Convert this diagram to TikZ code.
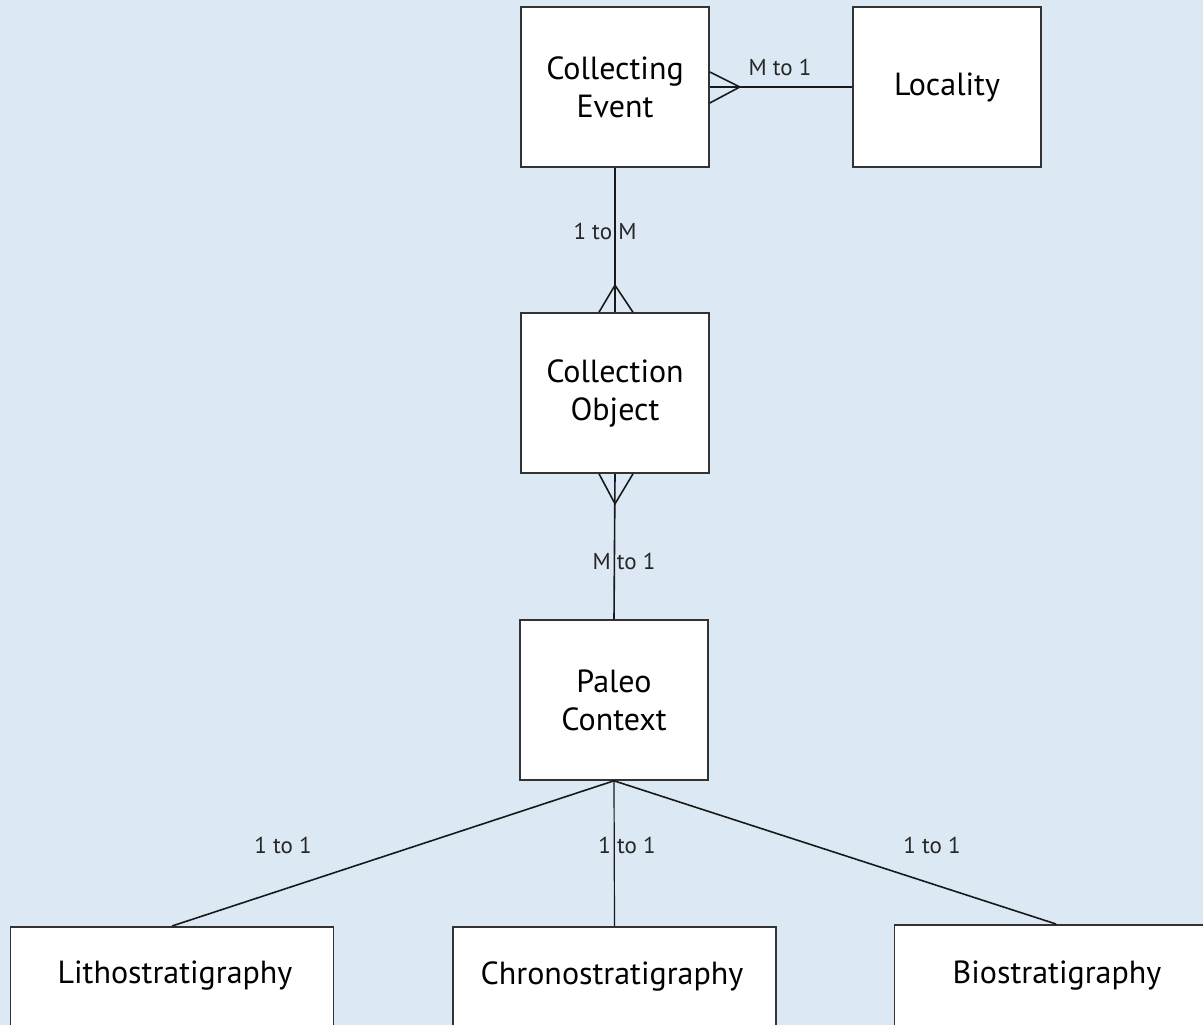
\documentclass[tikz,border=0pt]{standalone}
\usepackage{fontspec}
\setmainfont{PT Sans}
\usetikzlibrary{calc}
\definecolor{bgblue}{HTML}{DCE9F5}
\definecolor{edge}{HTML}{333333}
\begin{document}
\begin{tikzpicture}[x=1pt,y=-1pt,
  entity/.style={draw=edge,fill=white,line width=1.6pt,minimum width=188pt,minimum height=160pt,
    align=center,inner sep=0pt,font=\fontsize{32}{38}\selectfont},
  wide/.style={entity,minimum width=323pt,minimum height=200pt},
  etext/.style={font=\fontsize{32}{38}\selectfont,inner sep=0pt},
  rel/.style={line width=1.6pt,draw=black!90},
  lbl/.style={font=\fontsize{23}{26}\selectfont,text=black!85,inner sep=0pt}]
\useasboundingbox (0,0) rectangle (1203,1025);
\clip (0,0) rectangle (1203,1025);
\fill[bgblue] (0,0) rectangle (1203,1025);
\node[entity] (ce) at (615,87) {Collecting\\Event};
\node[entity] (loc) at (947,87) {Locality};
\node[entity] (co) at (615,393) {Collection\\Object};
\node[entity] (pc) at (614,700) {Paleo\\Context};
\node[wide,anchor=north] (litho) at (172,926) {};
\node[wide,anchor=north] (chrono) at (614.5,926) {};
\node[wide,anchor=north] (bio) at (1056,924) {};
\node[etext] (lithot) at (175,976) {Lithostratigraphy};
\node[etext] (chronot) at (612,976) {Chronostratigraphy};
\node[etext] (biot) at (1057,976) {Biostratigraphy};
% Collecting Event -- Locality (M to 1)
\draw[rel] (ce.east) -- (loc.west);
\draw[rel] ($(ce.east)+(0,-15)$) -- ($(ce.east)+(30,0)$) -- ($(ce.east)+(0,16)$);
\node[lbl] (l1) at (780,67) {M to 1};
% Collecting Event -- Collection Object (1 to M)
\draw[rel] (ce.south) -- (co.north);
\draw[rel] ($(co.north)+(-16,0)$) -- ($(co.north)+(0,-27)$) -- ($(co.north)+(18,0)$);
\node[lbl] (l2) at (605,231) {1 to M};
% Collection Object -- Paleo Context (M to 1)
\draw[rel] (co.south) -- (pc.north);
\draw[rel] ($(co.south)+(-16,0)$) -- ($(co.south)+(0,30)$) -- ($(co.south)+(18,0)$);
\node[lbl] (l3) at (624,561) {M to 1};
% Paleo Context -- strata
\draw[rel] (pc.south) -- (litho.north);
\draw[rel,line width=1.2pt] (pc.south) -- (chrono.north);
\draw[rel] (pc.south) -- (bio.north);
\node[lbl] (l4) at (283,845) {1 to 1};
\node[lbl] (l5) at (627,845) {1 to 1};
\node[lbl] (l6) at (932,845) {1 to 1};
\end{tikzpicture}
\end{document}
